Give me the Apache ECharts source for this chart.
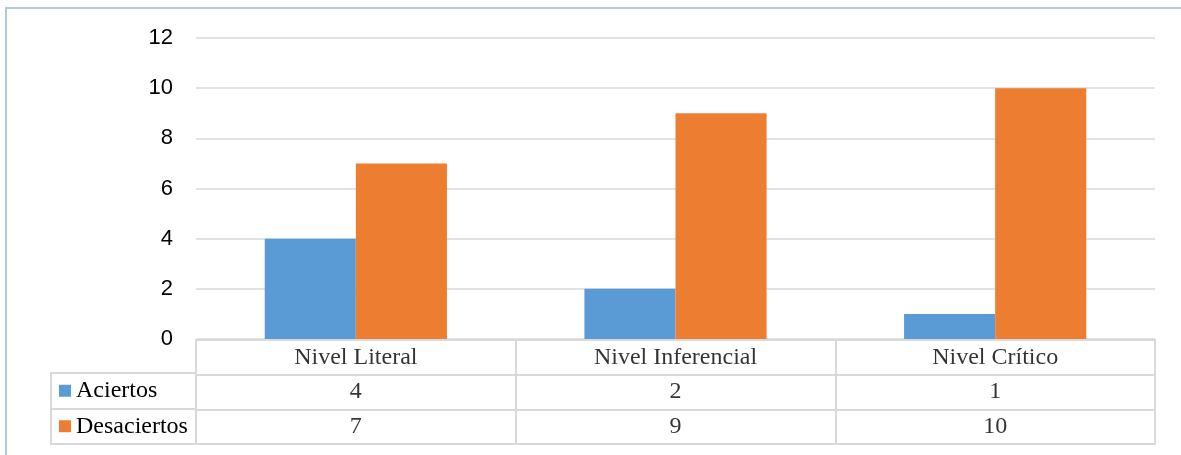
<!DOCTYPE html>
<html>
<head>
<meta charset="utf-8">
<script src="https://cdn.jsdelivr.net/npm/echarts@6/dist/echarts.min.js"></script>
<style>
    html, body { margin: 0; padding: 0; background: #fff; }
    #chart { width: 1181px; height: 455px; }
    .frame {
        position: absolute; left: 5px; top: 7px; width: 1300px; height: 500px;
        border-top: 2px solid #b4c7e7; border-left: 2px solid #b4c7e7;
        pointer-events: none;
    }
</style>
</head>
<body>
<div id="chart"></div>
<div class="frame"></div>
<script>
const categories = ['Nivel Literal', 'Nivel Inferencial', 'Nivel Crítico']
const aciertos = [4, 2, 1]
const desaciertos = [7, 9, 10]
const seriesNames = ['Aciertos', 'Desaciertos']
const colors = ['#5b9bd5', '#ed7d31']

const tableRows = [''].concat(seriesNames)
const lineColor = '#d9d9d9'
const serif = '"Liberation Serif", "Times New Roman", serif'

// cells of the data table: header row + one row per series
const cells = []
categories.forEach((c, i) => {
    cells.push({ value: [i, 0], text: c })
    cells.push({ value: [i, 1], text: String(aciertos[i]) })
    cells.push({ value: [i, 2], text: String(desaciertos[i]) })
})

const chart = echarts.init(document.getElementById('chart'))

const option = {
    backgroundColor: '#fff',
    animation: false,
    grid: [
        { left: 196, right: 26, top: 38, bottom: 116 },
        { left: 196, right: 26, top: 340, bottom: 11, show: true, borderColor: lineColor, borderWidth: 2 },
        { left: 51, width: 145, top: 373, bottom: 11, show: true, borderColor: lineColor, borderWidth: 2 }
    ],
    xAxis: [
        {
            gridIndex: 0, type: 'category', data: categories,
            axisLine: { show: false }, axisTick: { show: false }, axisLabel: { show: false }
        },
        {
            gridIndex: 1, type: 'category', data: categories,
            axisLine: { show: false }, axisTick: { show: false }, axisLabel: { show: false },
            splitLine: { show: true, interval: 0, lineStyle: { color: lineColor, width: 2 } }
        },
        { gridIndex: 2, type: 'value', show: false }
    ],
    yAxis: [
        {
            gridIndex: 0, type: 'value', min: 0, max: 12, interval: 2,
            axisLine: { show: false }, axisTick: { show: false },
            axisLabel: { fontFamily: '"Liberation Sans", Arial, sans-serif', fontSize: 22, color: '#000', margin: 23 },
            splitLine: { lineStyle: { color: lineColor, width: 1.5 } }
        },
        {
            gridIndex: 1, type: 'category', data: tableRows, inverse: true,
            axisLine: { show: false }, axisTick: { show: false }, axisLabel: { show: false },
            splitLine: { show: true, interval: 0, lineStyle: { color: lineColor, width: 2 } }
        },
        {
            gridIndex: 2, type: 'category', data: seriesNames, inverse: true,
            axisLine: { show: false }, axisTick: { show: false },
            splitLine: { show: true, interval: 0, lineStyle: { color: lineColor, width: 2 } },
            axisLabel: {
                inside: true, margin: 8,
                formatter: (v, i) => `{s${i}|}{t|${v}}`,
                rich: {
                    s0: { width: 12, height: 12, backgroundColor: colors[0] },
                    s1: { width: 12, height: 12, backgroundColor: colors[1] },
                    t: { fontFamily: serif, fontSize: 24, color: '#000', padding: [0, 0, 0, 5] }
                }
            }
        }
    ],
    series: [
        {
            name: seriesNames[0], type: 'bar', data: aciertos,
            xAxisIndex: 0, yAxisIndex: 0,
            barGap: 0, barCategoryGap: '43%',
            itemStyle: { color: colors[0] }
        },
        {
            name: seriesNames[1], type: 'bar', data: desaciertos,
            xAxisIndex: 0, yAxisIndex: 0,
            barGap: 0, barCategoryGap: '43%',
            itemStyle: { color: colors[1] }
        },
        {
            type: 'scatter', data: cells, xAxisIndex: 1, yAxisIndex: 1,
            symbolSize: 0, silent: true,
            label: {
                show: true, position: 'inside',
                formatter: p => p.data.text,
                fontFamily: serif, fontSize: 24, color: '#000'
            }
        }
    ]
}

chart.setOption(option)
</script>
</body>
</html>
